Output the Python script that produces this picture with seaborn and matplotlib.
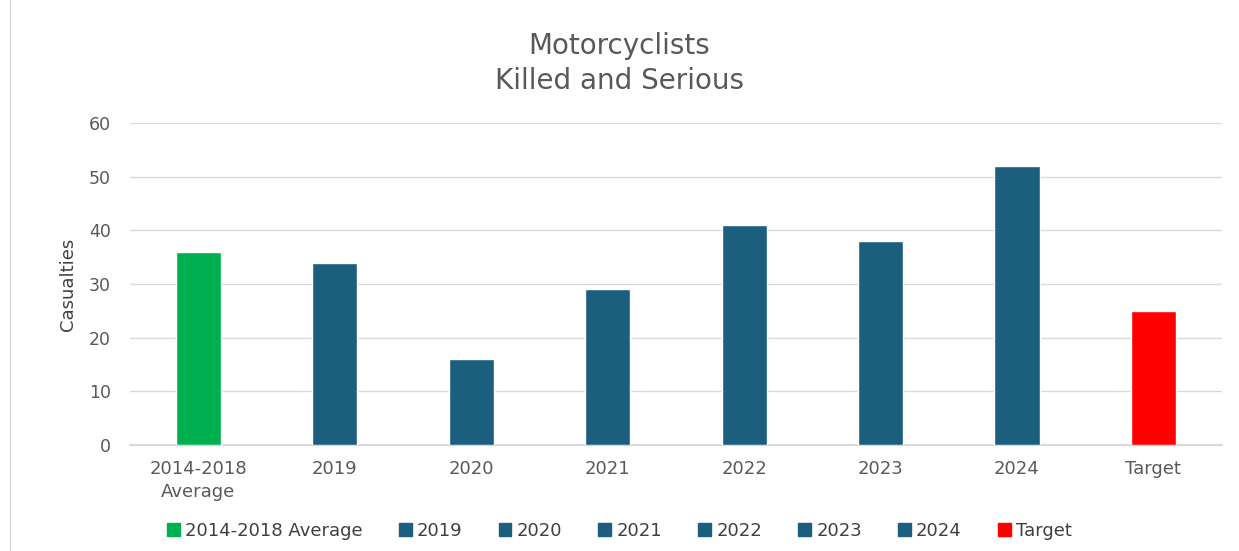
import matplotlib
matplotlib.use("Agg")
import matplotlib.pyplot as plt
import seaborn as sns
import pandas as pd
from matplotlib.patches import Patch

categories = ["2014-2018 Average", "2019", "2020", "2021", "2022", "2023", "2024", "Target"]
tick_labels = ["2014-2018\nAverage", "2019", "2020", "2021", "2022", "2023", "2024", "Target"]
values = [36, 34, 16, 29, 41, 38, 52, 25]
colors = ["#00B050", "#1B5E7E", "#1B5E7E", "#1B5E7E", "#1B5E7E", "#1B5E7E", "#1B5E7E", "#FF0000"]

sns.set_theme(style="white")
plt.rcParams['font.family'] = ['DejaVu Sans']

df = pd.DataFrame({"cat": categories, "val": values})
fig = plt.figure(figsize=(12.39, 5.51), dpi=100)
ax = fig.add_axes([0.105, 0.192, 0.881, 0.585])
sns.barplot(data=df, x="cat", y="val", hue="cat", palette=dict(zip(categories, colors)),
            dodge=False, width=0.33, legend=False, ax=ax, saturation=1)
ax.set_ylim(0, 60)
ax.set_yticks(range(0, 61, 10))
ax.set_xlim(-0.5, 7.5)
ax.yaxis.grid(True, color="#D9D9D9", linewidth=1)
ax.axhline(0, color="#D9D9D9", linewidth=1.5, zorder=0.5, clip_on=False)
ax.set_axisbelow(True)
for s in ax.spines.values():
    s.set_visible(False)
ax.set_xticks(range(8))
ax.set_xticklabels(tick_labels, fontsize=13, color="#595959", linespacing=1.3)
ax.tick_params(axis='y', labelsize=12.5, labelcolor="#595959", pad=14, length=0)
ax.tick_params(axis='x', length=0, pad=11)
ax.set_xlabel("")
ax.set_ylabel("Casualties", fontsize=13, color="#404040", labelpad=8)
fig.text(0.5, 0.885, "Motorcyclists\nKilled and Serious", ha="center", va="center",
         fontsize=20, color="#595959", linespacing=1.3)

handles = [Patch(facecolor=c, edgecolor=c) for c in colors]
leg = fig.legend(handles, categories, loc="center", bbox_to_anchor=(0.5, 0.037), ncol=8,
                 frameon=False, handlelength=0.7, handleheight=0.7, handletextpad=0.3,
                 columnspacing=2.0, prop={'size': 13})
for t in leg.get_texts():
    t.set_color("#404040")

fig.add_artist(plt.Line2D([0.008, 0.008], [0.0, 1.0], color="#D9D9D9", linewidth=1))
fig.savefig("out.png", dpi=100, facecolor="white")
